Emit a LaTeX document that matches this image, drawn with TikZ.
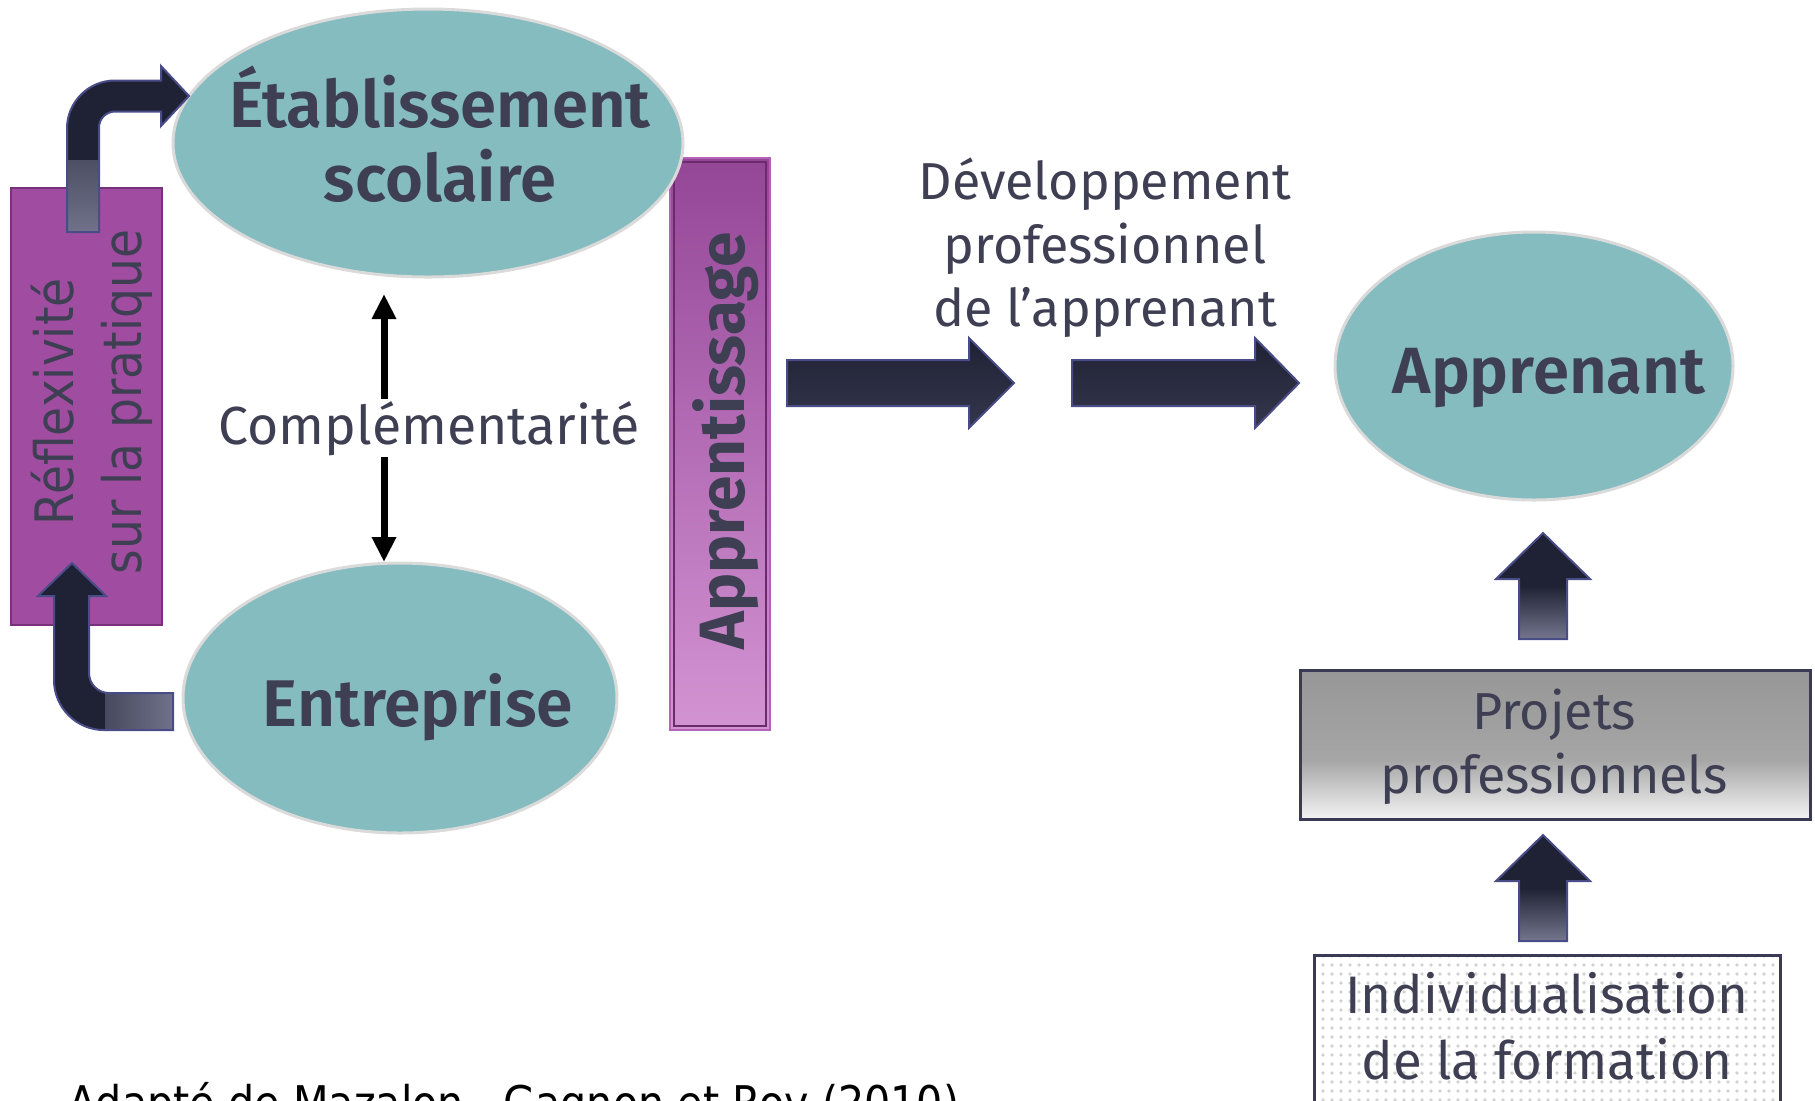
\documentclass[tikz,border=0pt]{standalone}
\usepackage{fontspec}
\setmainfont{Fira Sans}
\newfontfamily\semib{Fira Sans SemiBold}
\newfontfamily\tah[FakeStretch=0.89]{DejaVu Sans}
\usetikzlibrary{arrows.meta,patterns.meta,shapes.geometric}
\definecolor{tealf}{HTML}{84BCC0}
\definecolor{ellb}{HTML}{DADADA}
\definecolor{txt}{HTML}{3F3F54}
\definecolor{purp}{HTML}{A04CA0}
\definecolor{purpb}{HTML}{7A307A}
\definecolor{apptop}{HTML}{944697}
\definecolor{appbot}{HTML}{D394D3}
\definecolor{appin}{HTML}{6A2A6C}
\definecolor{appout}{HTML}{B562B6}
\definecolor{navy}{HTML}{1F2134}
\definecolor{navyb}{HTML}{4A4C88}
\definecolor{navyl}{HTML}{74768E}
\definecolor{navytwo}{HTML}{34364C}
\definecolor{boxb}{HTML}{3A3A56}
\definecolor{projtop}{HTML}{979797}
\definecolor{projmid}{HTML}{A6A6A6}
\definecolor{projlow}{HTML}{F4F4F4}
\definecolor{dotc}{HTML}{D2D2D2}
\pgfdeclareverticalshading{projshade}{100bp}{color(0bp)=(projlow); color(25bp)=(projlow); color(45bp)=(projmid); color(75bp)=(projtop); color(100bp)=(projtop)}
\pgfdeclareverticalshading{upshade}{100bp}{color(0bp)=(navyl); color(25bp)=(navyl); color(50bp)=(navy); color(100bp)=(navy)}
\tikzset{
  ell/.style={ellipse, fill=tealf, draw=ellb, line width=1.5pt, inner sep=0pt},
  ttl/.style={text=txt, inner sep=0pt},
  blockarr/.style={draw=navyb, line width=1pt},
  dblarr/.style={line width=3.5pt, -{Triangle[width=11.5pt,length=12.5pt]}},
  boxnode/.style={anchor=north west, draw=boxb, line width=1.5pt, inner sep=0pt}
}
\begin{document}
\begin{tikzpicture}[x=0.5pt,y=-0.5pt]
\useasboundingbox (0,0) rectangle (1815,1100);
% left purple box
\node[anchor=north west, draw=purpb, fill=purp, line width=1pt, minimum width=75.5pt, minimum height=218.5pt, inner sep=0pt] (reflbox) at (10,187) {};
% Apprentissage box
\node[anchor=north west, minimum width=50pt, minimum height=286pt, top color=apptop, bottom color=appbot, draw=appout, line width=1pt, inner sep=0pt] (apprbox) at (669,157) {};
\draw[appin, line width=1pt] ([shift={(5,5)}]apprbox.north west) rectangle ([shift={(-5,-5)}]apprbox.south east);
\node[rotate=90, ttl, font=\fontsize{32}{38}\selectfont\bfseries] (apprtxt) at (726,441) {Apprentissage};
% ellipses
\node[ell, minimum width=255pt, minimum height=134pt] (etab) at (428,143) {};
\node[ell, minimum width=217pt, minimum height=135pt] (entr) at (400,698) {};
\node[ell, minimum width=199pt, minimum height=134pt] (appren) at (1534,366) {};
\node[ttl, align=center, font=\semib\fontsize{32.6}{37}\selectfont] (etabtxt) at (440,134) {\'Etablissement\\scolaire};
\node[ttl, anchor=base, font=\semib\fontsize{33}{40}\selectfont] (entrtxt) at (418,726) {Entreprise};
\node[ttl, anchor=base, font=\semib\fontsize{32.7}{40}\selectfont] (apprentxt) at (1549,393) {Apprenant};
% Reflexivite text
\node[rotate=90, ttl, align=center, font=\tah\fontsize{26.5}{34}\selectfont] (refltxt) at (92,402) {R\'eflexivit\'e\\sur la pratique};
% bent arrows
\draw[blockarr, fill=navy, path picture={\shade[top color=navy, bottom color=navyl] (55,160) rectangle (110,240);}]
  (67,232) -- (67,128.5) .. controls (67,102) and (88.5,80.5) .. (115,80.5) -- (161,80.5) -- (161,66) -- (189,96) -- (161,126) -- (161,111.5) -- (115,111.5) .. controls (106.2,111.5) and (99,118.7) .. (99,127.5) -- (99,232) -- cycle;
\draw[blockarr, fill=navy, path picture={\shade[left color=navy, right color=navyl] (105,685) rectangle (180,740);}]
  (173,693) -- (109,693) .. controls (98,693) and (89,684) .. (89,673) -- (89,596) -- (106,596) -- (72,563) -- (38,596) -- (54,596) -- (54,680) .. controls (54,707.6) and (76.4,730) .. (104,730) -- (173,730) -- cycle;
% complementarite
\node[ttl, anchor=base, font=\fontsize{26.8}{32}\selectfont] (compl) at (429,444) {Compl\'ementarit\'e};
\coordinate (cua) at (384,399);
\coordinate (cub) at (384,294);
\coordinate (cda) at (384,457);
\coordinate (cdb) at (384,562);
\draw[dblarr] (cua) -- (cub);
\draw[dblarr] (cda) -- (cdb);
% right arrows
\draw[blockarr, top color=navy, bottom color=navytwo] (787,360) -- (969,360) -- (969,338) -- (1014,383) -- (969,428) -- (969,406) -- (787,406) -- cycle;
\draw[blockarr, top color=navy, bottom color=navytwo] (1072,360) -- (1255,360) -- (1255,338) -- (1299,383) -- (1255,428) -- (1255,406) -- (1072,406) -- cycle;
\node[ttl, align=center, font=\fontsize{26}{31.8}\selectfont] (devtxt) at (1105,248) {D\'eveloppement\\professionnel\\de l’apprenant};
% up arrows
\shadedraw[shading=upshade, blockarr] (1519,639) -- (1519,579) -- (1496,579) -- (1543,533) -- (1590,579) -- (1567,579) -- (1567,639) -- cycle;
\shadedraw[shading=upshade, blockarr] (1519,941) -- (1519,881) -- (1496,881) -- (1543,835) -- (1590,881) -- (1567,881) -- (1567,941) -- cycle;
% boxes
\node[boxnode, shade, shading=projshade, minimum width=255pt, minimum height=74.5pt] (projbox) at (1299,669) {};
\node[ttl, align=center, font=\fontsize{26}{32}\selectfont] (projtxt) at (1554,747) {Projets\\professionnels};
\node[boxnode, pattern={Dots[distance=4.5pt,radius=0.9pt]}, pattern color=dotc, minimum width=233pt, minimum height=93pt] (indivbox) at (1313,954) {};
\node[ttl, align=center, font=\fontsize{26.4}{33}\selectfont] (indivtxt) at (1547,1026) {Individualisation\\de la formation};
% source
\node[anchor=base west, inner sep=0pt, font=\tah\fontsize{23.2}{28}\selectfont] (src) at (68,1119) {Adapt\'e de Mazalon,\ \ Gagnon et Roy (2010)};
\end{tikzpicture}
\end{document}
